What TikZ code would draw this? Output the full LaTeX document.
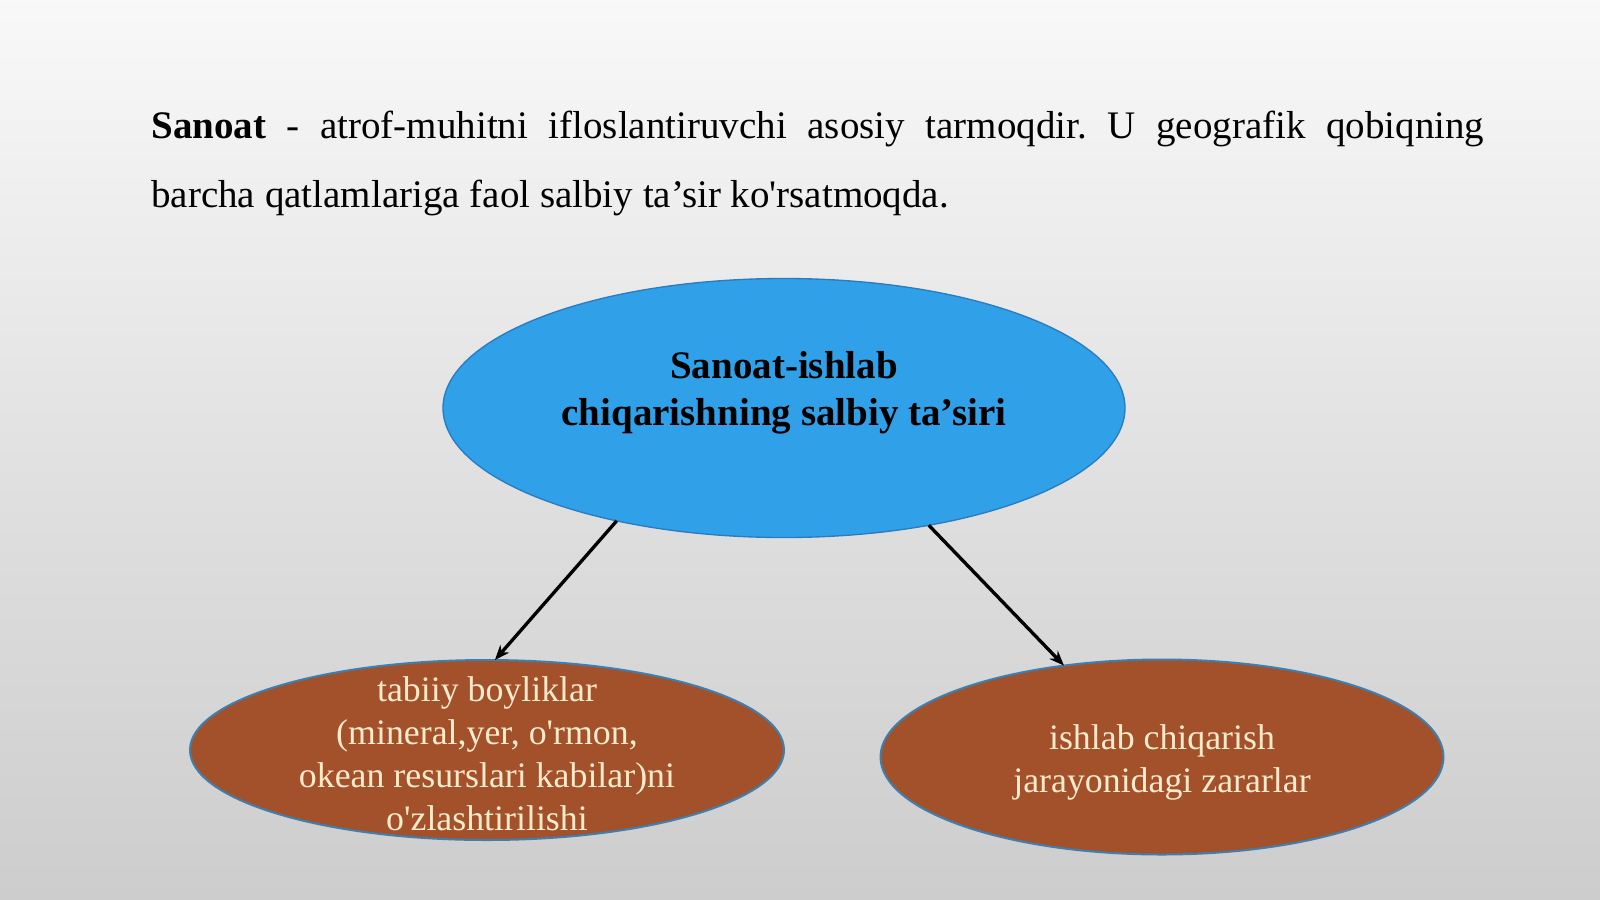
\documentclass[tikz,border=0pt]{standalone}
\usepackage{fontspec}
\setmainfont{Liberation Serif}[Ligatures=TeXOff]
\usetikzlibrary{shapes.geometric,arrows.meta}
\definecolor{bgbot}{HTML}{B9B9B9}
\definecolor{bgmid}{HTML}{DDDDDD}
\definecolor{blueFill}{HTML}{30A0E8}
\definecolor{blueEdge}{HTML}{2A7CC0}
\definecolor{brownFill}{HTML}{A2512A}
\definecolor{brownEdge}{HTML}{3F7FB0}
\definecolor{cream}{HTML}{FDEBCD}
\pgfdeclareverticalshading{bgshade}{100bp}{color(0bp)=(bgbot); color(45bp)=(bgmid); color(82bp)=(white); color(100bp)=(white)}
\tikzset{
  oval/.style={ellipse, inner sep=0pt, outer sep=0pt},
  bigoval/.style={oval, fill=blueFill, draw=blueEdge, line width=0.8pt},
  smalloval/.style={oval, fill=brownFill, draw=brownEdge, line width=1.2pt},
  headtext/.style={align=center, inner sep=0pt, font=\fontsize{23.4}{28.2}\selectfont\bfseries, text=black},
  subtext/.style={align=center, inner sep=0pt, font=\fontsize{21.5}{25.8}\selectfont, text=cream},
  arr/.style={line width=2pt, -{Stealth[length=9pt,width=7pt]}}
}
\begin{document}
\begin{tikzpicture}[x=0.6pt, y=-0.6pt]
\useasboundingbox (0,0) rectangle (1600,899);
\shade[shading=bgshade] (0,0) rectangle (1600,899);

\node[anchor=base west, inner sep=0pt] (para) at (151,138) {\parbox[t]{799.8pt}{\fontsize{23.4}{41.4}\selectfont
\frenchspacing\hyphenpenalty=10000\exhyphenpenalty=10000\parindent=0pt
\textbf{Sanoat} - atrof-muhitni ifloslantiruvchi asosiy tarmoqdir. U geografik qobiqning\linebreak
barcha qatlamlariga faol salbiy ta’sir ko'rsatmoqda.}};

\node[bigoval, minimum width=409.2pt, minimum height=155.4pt] (main) at (784,408) {};
\node[headtext] (mainlbl) at (784,393) {Sanoat-ishlab\\chiqarishning salbiy ta’siri};

\node[smalloval, minimum width=356.4pt, minimum height=108pt] (left) at (487,750) {};
\node[subtext] (leftlbl) at (487,754) {tabiiy boyliklar\\(mineral,yer, o'rmon,\\okean resurslari kabilar)ni\\o'zlashtirilishi};

\node[smalloval, minimum width=337.8pt, minimum height=117pt] (right) at (1162,757) {};
\node[subtext] (rightlbl) at (1162,762) {ishlab chiqarish\\jarayonidagi zararlar};

\draw[arr] (main.214.8) -- (left.85.5);
\draw[arr] (main.321.6) -- (right.137.7);
\end{tikzpicture}
\end{document}
